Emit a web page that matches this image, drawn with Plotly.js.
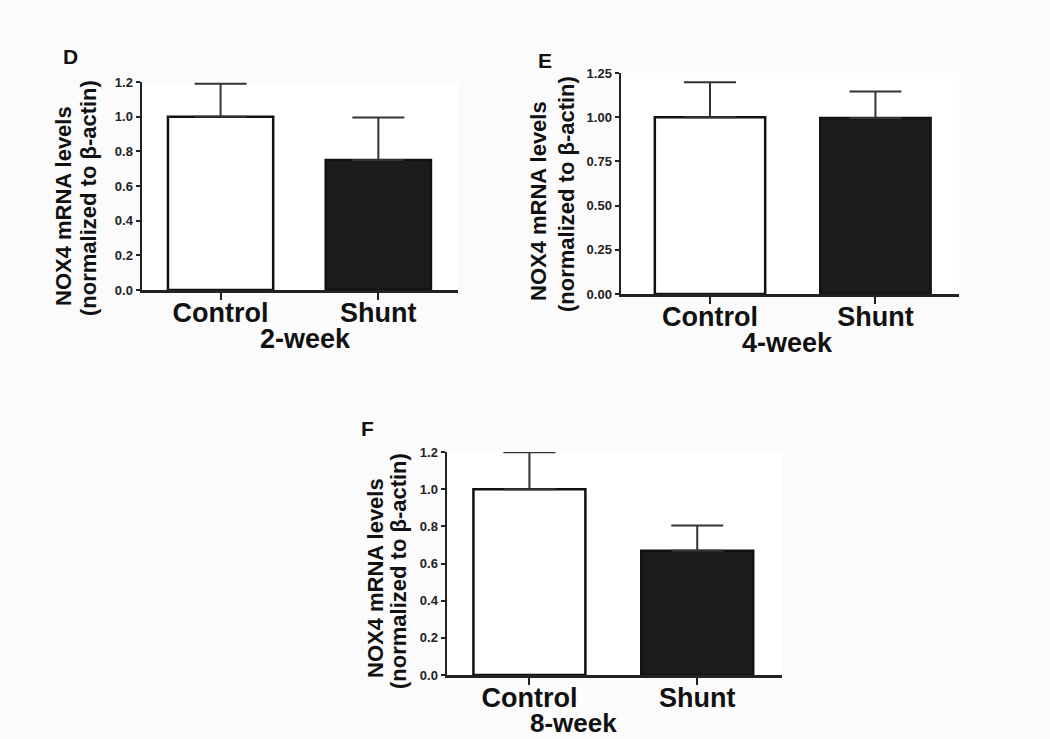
<!DOCTYPE html>
<html>
<head>
<meta charset="utf-8">
<script src="https://cdn.plot.ly/plotly-3.0.1.min.js"></script>
<style>html,body{margin:0;padding:0;background:#fbfbfb;}#chart{width:1050px;height:739px;}</style>
</head>
<body>
<div id="chart"></div>
<script>
// ---- data ----
const categories = ['Control', 'Shunt'];
const mean2wk = [1.00, 0.75];
const err2wk = [0.19, 0.245];
const mean4wk = [1.00, 0.995];
const err4wk = [0.197, 0.15];
const mean8wk = [1.00, 0.668];
const err8wk = [0.198, 0.137];
const ticks12 = [0, 0.2, 0.4, 0.6, 0.8, 1.0, 1.2];
const ticks125 = [0, 0.25, 0.5, 0.75, 1.0, 1.25];
const panelLetters = ['D', 'E', 'F'];
const periodLabels = ['2-week', '4-week', '8-week'];
const yLine1 = 'NOX4 mRNA levels';
const yLine2 = '(normalized to β-actin)';

const barColors = ['#ffffff', '#1c1c1c'];
const FONT = 'Liberation Sans, Arial, sans-serif';

function barTrace(means, errs, xa, ya) {
  return {
    type: 'bar', x: categories, y: means, xaxis: xa, yaxis: ya,
    width: 0.667,
    marker: {color: barColors, line: {color: '#111', width: 2.5}},
    error_y: {type: 'data', symmetric: false, array: errs, arrayminus: errs.map(() => 0),
              color: '#333', thickness: 2, width: 26},
    showlegend: false, hoverinfo: 'none'
  };
}

const data = [
  barTrace(mean2wk, err2wk, 'x', 'y'),
  barTrace(mean4wk, err4wk, 'x2', 'y2'),
  barTrace(mean8wk, err8wk, 'x3', 'y3')
];

const W = 1050, H = 739;
const px = v => v / W, py = v => 1 - v / H;

function xax(d0, d1, r0, anchor) {
  return {
    domain: [px(d0), px(d1)], range: [r0, 1.505], anchor: anchor,
    showline: true, linecolor: '#222', linewidth: 2.5,
    ticks: 'outside', ticklen: 7, tickwidth: 2, tickcolor: '#222',
    ticklabelstandoff: -10,
    showgrid: false, zeroline: false,
    tickfont: {family: FONT, size: 27, color: '#111', weight: 'bold'}
  };
}
function yax(top, bot, rmax, tv, fmt, anchor) {
  return {
    domain: [py(bot), py(top)], range: [0, rmax], anchor: anchor,
    showline: true, linecolor: '#222', linewidth: 2.5,
    ticks: 'outside', ticklen: 4, tickwidth: 2, tickcolor: '#222',
    tickvals: tv, tickformat: fmt,
    showgrid: false, zeroline: false,
    tickfont: {family: FONT, size: 13, color: '#222', weight: 'bold'}
  };
}

const ann = [];
function txt(x, y, text, size, angle) {
  ann.push({xref: 'paper', yref: 'paper', x: px(x), y: py(y), text: text, showarrow: false,
            xanchor: 'center', yanchor: 'middle', textangle: angle || 0,
            font: {family: FONT, size: size, color: '#111', weight: 'bold'}});
}
// panel letters
txt(70, 57, panelLetters[0], 21);
txt(545, 60, panelLetters[1], 21);
txt(367, 429, panelLetters[2], 21);
// period labels (x titles)
txt(305, 339, periodLabels[0], 27);
txt(787, 343, periodLabels[1], 27);
txt(573, 723, periodLabels[2], 26);
// y titles
txt(63, 206, yLine1, 22, -90); txt(88, 198, yLine2, 22, -90);
txt(538, 201, yLine1, 22, -90); txt(566, 194, yLine2, 22, -90);
txt(375, 578, yLine1, 22, -90); txt(398, 571, yLine2, 22, -90);

const layout = {
  width: W, height: H,
  margin: {l: 0, r: 0, t: 0, b: 0},
  paper_bgcolor: '#fbfbfb', plot_bgcolor: '#ffffff',
  xaxis: xax(142, 458, -0.498, 'y'),
  yaxis: yax(82, 290, 1.2, ticks12, '.1f', 'x'),
  xaxis2: xax(621, 959, -0.538, 'y2'),
  yaxis2: yax(73, 294, 1.25, ticks125, '.2f', 'x2'),
  xaxis3: xax(447, 782, -0.491, 'y3'),
  yaxis3: yax(452, 675, 1.2, ticks12, '.1f', 'x3'),
  annotations: ann,
  showlegend: false
};

Plotly.newPlot('chart', data, layout, {displayModeBar: false, staticPlot: true});
</script>
</body>
</html>
